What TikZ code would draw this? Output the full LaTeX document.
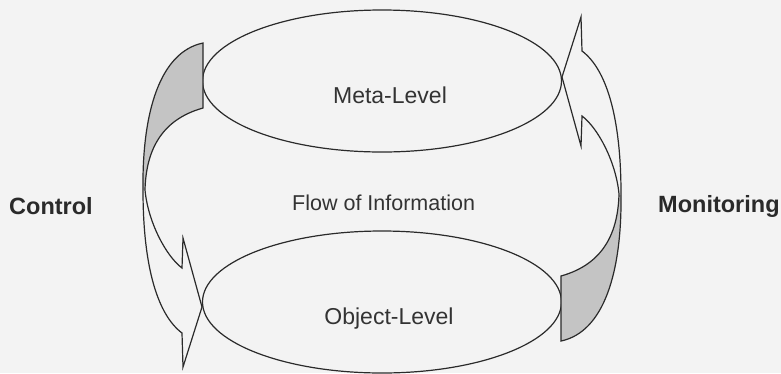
\documentclass[tikz,border=0pt]{standalone}
\usepackage{fontspec}
\setmainfont{Liberation Sans}
\usetikzlibrary{shapes.geometric}

\definecolor{paper}{HTML}{F3F3F3}
\definecolor{ink}{HTML}{2A2A2A}
\definecolor{tailgray}{HTML}{C4C4C4}
\definecolor{textgray}{HTML}{333333}

% outline of one curved ribbon arrow: wide tail at the top, head at the bottom
\newcommand{\ribbonpath}{%
  (203,43) .. controls (160,52) and (142,112) .. (143,190)
           .. controls (143,268) and (158,315) .. (182,333)
  -- (183,367) -- (202,307) -- (183,238) -- (182,268)
           .. controls (166,256) and (148,222) .. (145,190)
           .. controls (146,152) and (160,120) .. (203,108) -- cycle}

\tikzset{
  level/.style={ellipse, draw=ink, line width=1.2pt, minimum width=359pt,
                minimum height=142pt, inner sep=0pt},
  ribbon/.style={draw=ink, line width=1.2pt, line join=miter},
  lbl/.style={font=\fontsize{23}{26}\selectfont, text=textgray, anchor=base, inner sep=0pt},
  side/.style={font=\fontsize{23.5}{26}\selectfont\bfseries, text=ink, inner sep=0pt}
}

\begin{document}
\begin{tikzpicture}[x=1pt, y=-1pt]
  \fill[paper] (0,0) rectangle (781,373);
  \useasboundingbox (0,0) rectangle (781,373);

  % the two levels
  \node[level] (meta) at (382,81) {};
  \node[level] (object) at (382,302) {};

  % control arrow (left) and monitoring arrow (right, the same shape turned round)
  \foreach \turn in {0, 180} {
    \begin{scope}[rotate around={\turn:(382,192)}]
      \begin{scope}
        \clip (0,0) rectangle (781,189);
        \fill[tailgray] \ribbonpath;
      \end{scope}
      \draw[ribbon] \ribbonpath;
    \end{scope}
  }

  % labels
  \node[lbl] (metatext) at (390,103) {Meta-Level};
  \node[lbl] (objtext) at (389,324.5) {Object-Level};
  \node[lbl, font=\fontsize{21.5}{24}\selectfont, anchor=base west] (flow) at (292,210) {Flow of Information};
  \node[side, anchor=base west] (ctrl) at (9,214) {Control};
  \node[side, anchor=base west] (mon) at (658,212) {Monitoring};
\end{tikzpicture}
\end{document}
